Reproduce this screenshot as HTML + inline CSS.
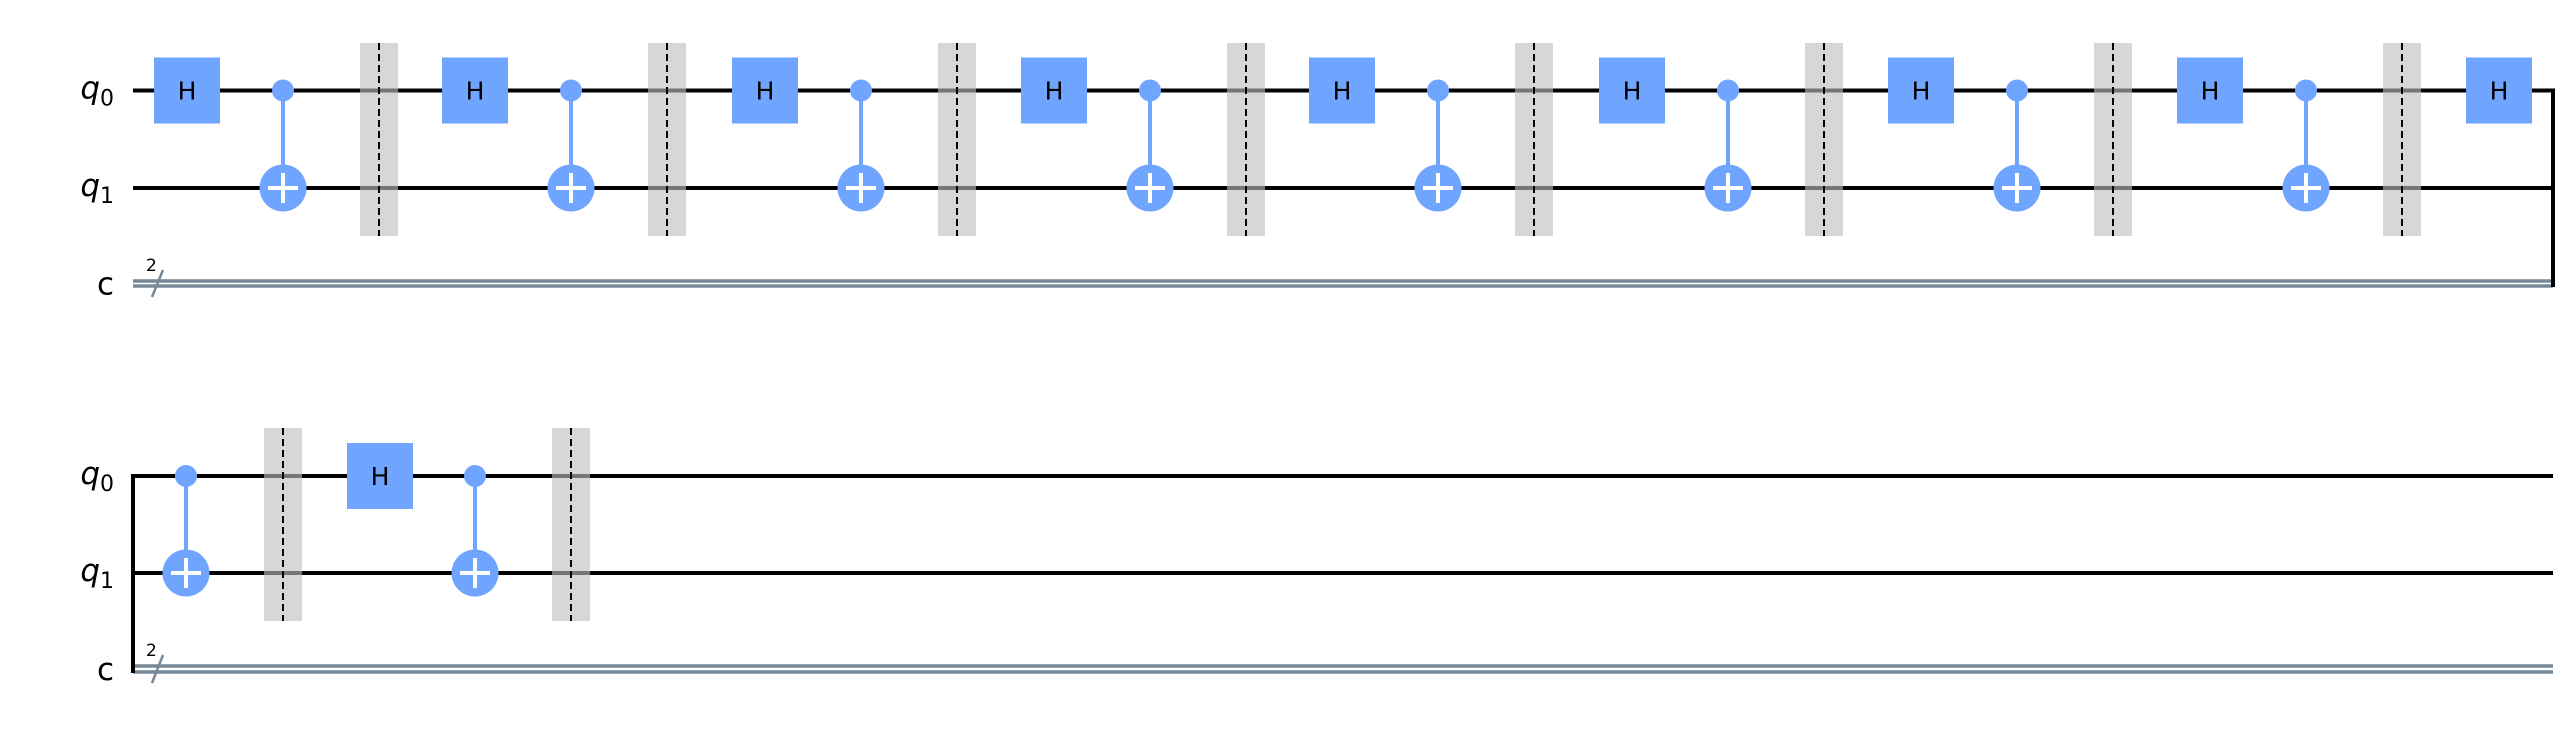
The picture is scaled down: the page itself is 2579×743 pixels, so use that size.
<!DOCTYPE html>
<html><head><meta charset="utf-8"><style>
html,body{margin:0;padding:0;background:#fff;width:2579px;height:743px;overflow:hidden}
svg{display:block}
text{font-family:"DejaVu Sans","Liberation Sans",sans-serif}
</style></head><body>
<svg id="circ" width="2579" height="743" viewBox="0 0 2579 743" xmlns="http://www.w3.org/2000/svg"></svg>
<script>
// circuit data: sequence of operations per row
const row1Ops = ['h','cx','b','h','cx','b','h','cx','b','h','cx','b','h','cx','b','h','cx','b','h','cx','b','h','cx','b','h'];
const row1Pos = [187,283,379,476,572,668,766,862,958,1055,1151,1247,1344,1440,1536,1634,1730,1826,1923,2019,2115,2213,2309,2405,2502];
const row2Ops = ['cx','b','h','cx','b'];
const row2Pos = [186,283,380,476,572];
const rows = [
  {q0:90.5,q1:188,c1:281,c2:286,bTop:43,bBot:236,ops:row1Ops,pos:row1Pos,name:'row-1',left:false,right:true},
  {q0:477,q1:574,c1:667,c2:673,bTop:429,bBot:622,ops:row2Ops,pos:row2Pos,name:'row-2',left:true,right:false}
];
const NS='http://www.w3.org/2000/svg';
const svg=document.getElementById('circ');
function mk(tag,attrs,parent){const e=document.createElementNS(NS,tag);for(const k in attrs)e.setAttribute(k,attrs[k]);(parent||svg).appendChild(e);return e;}
const X0=133, X1=2556;
rows.forEach((r,ri)=>{
  const g=mk('g',{});
  
  
  [['q',0,r.q0],['q',1,r.q1]].forEach(([t,i,y])=>{
    const tx=mk('text',{x:114,y:y+8,'text-anchor':'end','font-size':31,'font-style':'italic',fill:'#000'},g);
    
    
    tx.textContent='q';
    const sub=mk('tspan',{'font-size':22,'font-style':'normal',dy:7},tx);
    sub.textContent=String(i);
  });
  const cl=mk('text',{x:114,y:(r.c1+r.c2)/2+11,'text-anchor':'end','font-size':31,fill:'#000'},g);
  
  
  cl.textContent='c';
  [r.q0,r.q1].forEach((y,i)=>{
    const w=mk('line',{x1:X0,y1:y,x2:X1,y2:y,stroke:'#000','stroke-width':4},g);
    
    
  });
  [r.c1,r.c2].forEach((y,i)=>{
    const w=mk('line',{x1:X0,y1:y,x2:X1,y2:y,stroke:'#778899','stroke-width':3.5},g);
    
    
  });
  const sl=mk('line',{x1:152,y1:r.c2+11,x2:163,y2:r.c1-11,stroke:'#778899','stroke-width':2.5},g);
  
  
  const two=mk('text',{x:146,y:r.c1-10,'font-size':17,fill:'#000'},g);
  
  
  two.textContent='2';
  if(r.right){
    const v=mk('path',{d:`M${X1-2},${r.q0} L${X1},${r.q0} L${X1},${r.c2+1}`,fill:'none',stroke:'#000','stroke-width':4},g);
    
    
  }
  if(r.left){
    const v=mk('path',{d:`M${X0+2},${r.q0} L${X0},${r.q0} L${X0},${r.c2+1}`,fill:'none',stroke:'#000','stroke-width':4},g);
    
    
  }
  r.ops.forEach((op,k)=>{
    const x=r.pos[k];
    if(op==='h'){
      const rc=mk('rect',{x:x-33,y:r.q0-33,width:66,height:66,fill:'#6fa4ff'},g);
      
      
      const t=mk('text',{x:x,y:r.q0+9,'text-anchor':'middle','font-size':25,fill:'#000'},g);
      
      
      t.textContent='H';
    } else if(op==='cx'){
      const cg=mk('g',{},g);
      
      
      mk('line',{x1:x,y1:r.q0,x2:x,y2:r.q1,stroke:'#6fa4ff','stroke-width':4},cg);
      mk('circle',{cx:x,cy:r.q0,r:11,fill:'#6fa4ff'},cg);
      mk('circle',{cx:x,cy:r.q1,r:23.5,fill:'#6fa4ff'},cg);
      mk('line',{x1:x-15,y1:r.q1,x2:x+15,y2:r.q1,stroke:'#fff','stroke-width':4},cg);
      mk('line',{x1:x,y1:r.q1-15,x2:x,y2:r.q1+15,stroke:'#fff','stroke-width':4},cg);
    } else {
      const bg=mk('g',{},g);
      
      
      mk('rect',{x:x-19,y:r.bTop,width:38,height:r.bBot-r.bTop,fill:'#bfbfbf','fill-opacity':0.62},bg);
      mk('line',{x1:x,y1:r.bTop,x2:x,y2:r.bBot,stroke:'#000','stroke-width':2,'stroke-dasharray':'7,4'},bg);
    }
  });
});
</script>
</body></html>
